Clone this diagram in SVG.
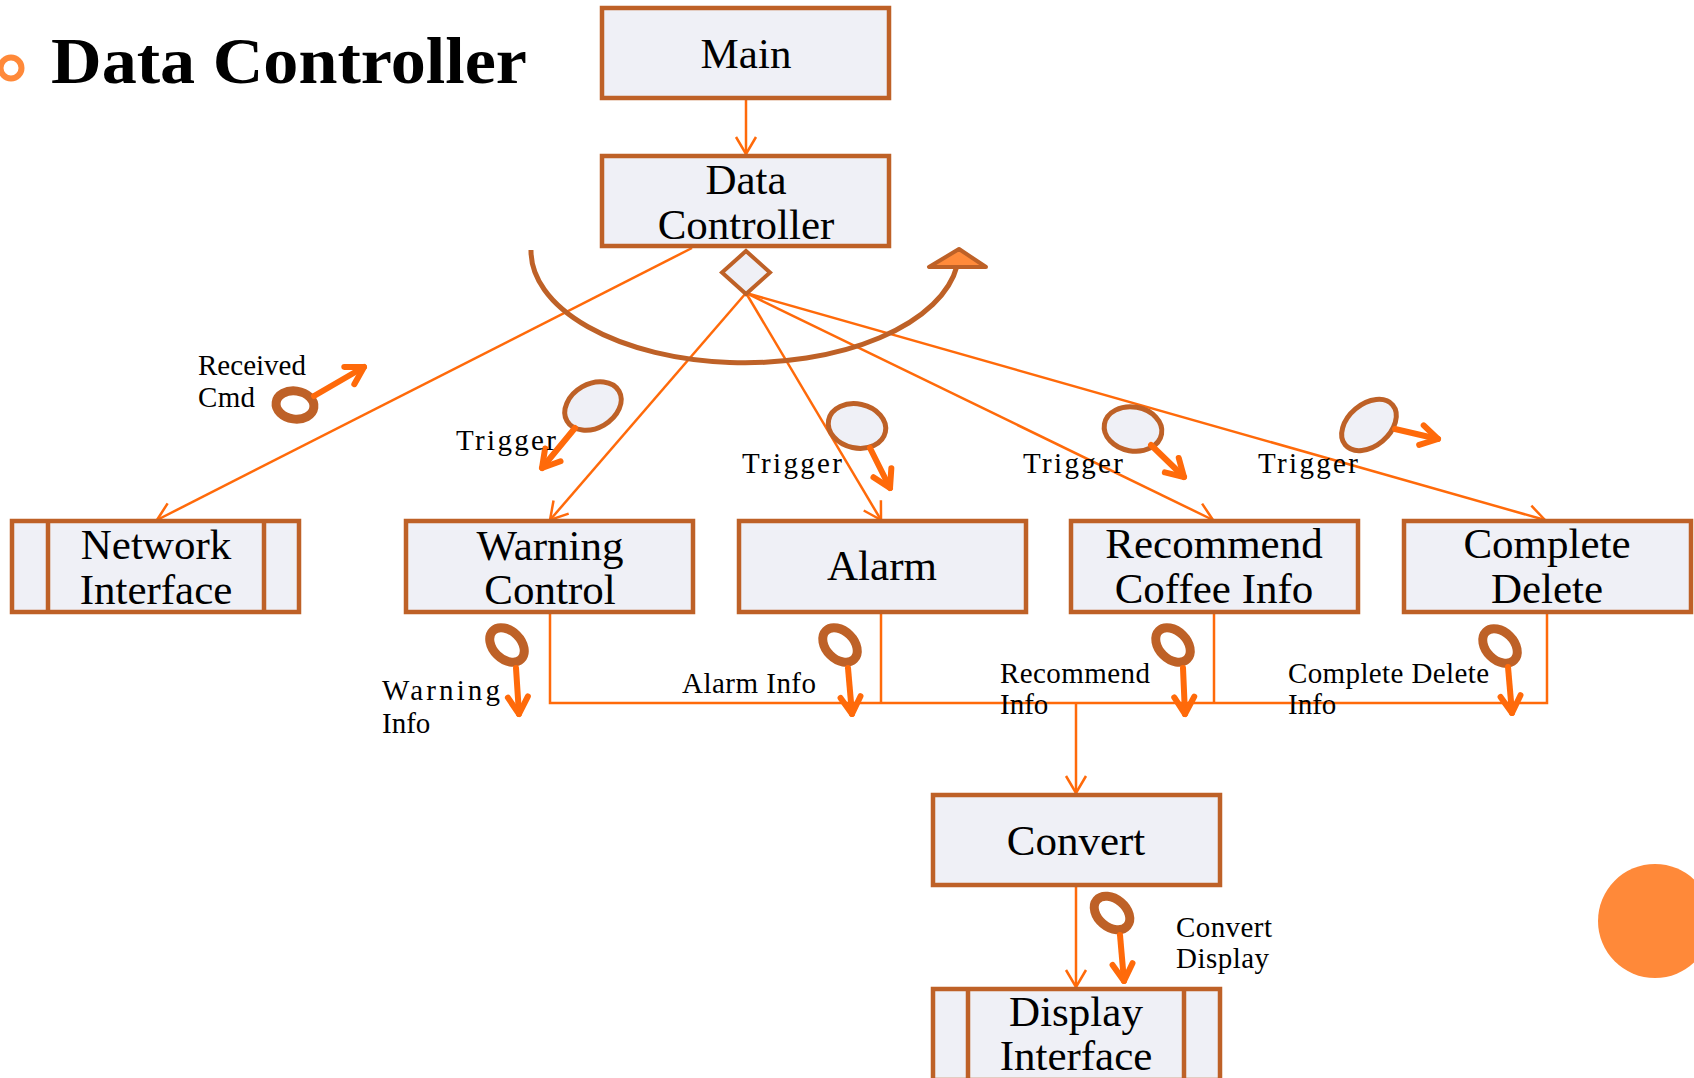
<svg xmlns="http://www.w3.org/2000/svg" width="1694" height="1078" viewBox="0 0 1694 1078">
<style>
.box{fill:#EFF0F6;stroke:#BE6127;stroke-width:4.5}
.bt{font-family:"Liberation Serif",serif;font-size:43px;fill:#000;text-anchor:middle}
.lt{font-family:"Liberation Serif",serif;font-size:29px;fill:#000}
.ln{fill:none;stroke:#FF6A0A;stroke-width:2.5}
.thk{fill:none;stroke:#FF6A0A;stroke-width:6;stroke-linecap:round}
.ring{fill:#fff;stroke:#BE6127;stroke-width:9}
.ctl{fill:#EFF0F6;stroke:#BE6127;stroke-width:5}
</style>
<defs>
<marker id="open" markerUnits="userSpaceOnUse" viewBox="-20 -12 24 24" markerWidth="24" markerHeight="24" refX="0" refY="0" orient="auto">
<path d="M -17 -10 L 0 0 L -17 10" fill="none" stroke="#FF6A0A" stroke-width="2.5"/>
</marker>
<marker id="thick" markerUnits="userSpaceOnUse" viewBox="-22 -14 28 28" markerWidth="28" markerHeight="28" refX="0" refY="0" orient="auto">
<path d="M -17 -10 L 0 0 L -17 10" fill="none" stroke="#FF6A0A" stroke-width="6" stroke-linecap="round" stroke-linejoin="round"/>
</marker>
</defs>
<rect width="1694" height="1078" fill="#fff"/>
<g id="title">
<circle cx="11" cy="68" r="10.5" fill="none" stroke="#FF8939" stroke-width="6"/>
<text x="51" y="83" font-family="Liberation Serif,serif" font-weight="bold" font-size="66" textLength="476" lengthAdjust="spacingAndGlyphs">Data Controller</text>
</g>
<circle id="deco" cx="1655" cy="921" r="57" fill="#FF8939"/>
<g id="connectors">
<path class="ln" d="M 746 100 V 154" marker-end="url(#open)"/>
<path class="ln" d="M 692 248 L 157 520" marker-end="url(#open)"/>
<path class="ln" d="M 746 293 L 550 520" marker-end="url(#open)"/>
<path class="ln" d="M 746 293 L 881 520" marker-end="url(#open)"/>
<path class="ln" d="M 746 293 L 1213 520" marker-end="url(#open)"/>
<path class="ln" d="M 746 293 L 1545 520" marker-end="url(#open)"/>
<path class="ln" d="M 550 613 V 703 H 1547 V 613"/>
<path class="ln" d="M 881 613 V 703"/>
<path class="ln" d="M 1214 613 V 703"/>
<path class="ln" d="M 1076 703 V 793" marker-end="url(#open)"/>
<path class="ln" d="M 1076 887 V 987" marker-end="url(#open)"/>
<path d="M 531 250 A 214 112 0 0 0 957 266" fill="none" stroke="#BE6127" stroke-width="5"/>
<path d="M 959 249 L 929 267 L 986 267 Z" fill="#FF8A3A" stroke="#BE6127" stroke-width="4" stroke-linejoin="round"/>
<path d="M 746 251 L 770 272.5 L 746 294 L 722 272.5 Z" fill="#EFF0F6" stroke="#BE6127" stroke-width="4"/>
</g>
<g id="main"><rect class="box" x="602" y="8" width="287" height="90"/><text class="bt" x="746" y="68">Main</text></g>
<g id="data-controller"><rect class="box" x="602" y="156" width="287" height="90"/><text class="bt" x="746" y="194">Data</text><text class="bt" x="746" y="239">Controller</text></g>
<g id="network-interface"><rect class="box" x="12" y="521" width="287" height="91"/><path d="M 48 521 V 612 M 264 521 V 612" stroke="#BE6127" stroke-width="4.5"/><text class="bt" x="156" y="559">Network</text><text class="bt" x="156" y="604">Interface</text></g>
<g id="warning-control"><rect class="box" x="406" y="521" width="287" height="91"/><text class="bt" x="550" y="560">Warning</text><text class="bt" x="550" y="604">Control</text></g>
<g id="alarm"><rect class="box" x="739" y="521" width="287" height="91"/><text class="bt" x="882" y="580">Alarm</text></g>
<g id="recommend"><rect class="box" x="1071" y="521" width="287" height="91"/><text class="bt" x="1214" y="558">Recommend</text><text class="bt" x="1214" y="603">Coffee Info</text></g>
<g id="complete-delete"><rect class="box" x="1404" y="521" width="287" height="91"/><text class="bt" x="1547" y="558">Complete</text><text class="bt" x="1547" y="603">Delete</text></g>
<g id="convert"><rect class="box" x="933" y="795" width="287" height="90"/><text class="bt" x="1076" y="855">Convert</text></g>
<g id="display-interface"><rect class="box" x="933" y="989" width="287" height="91"/><path d="M 968 989 V 1080 M 1184 989 V 1080" stroke="#BE6127" stroke-width="4.5"/><text class="bt" x="1076" y="1026">Display</text><text class="bt" x="1076" y="1070">Interface</text></g>
<g id="couples">
<g id="c-received"><ellipse class="ring" cx="295" cy="405" rx="19" ry="14" transform="rotate(8 295 405)"/><path class="thk" d="M 314 396 L 364 367" marker-end="url(#thick)"/><text class="lt" x="198" y="375" textLength="108">Received</text><text class="lt" x="198" y="407" textLength="57">Cmd</text></g>
<g id="c-trigger1"><ellipse class="ctl" cx="593" cy="406" rx="30" ry="22" transform="rotate(-30 593 406)"/><path class="thk" d="M 575 428 L 542 468" marker-end="url(#thick)"/><text class="lt" x="456" y="450" textLength="100">Trigger</text></g>
<g id="c-trigger2"><ellipse class="ctl" cx="857" cy="426" rx="29" ry="22" transform="rotate(12 857 426)"/><path class="thk" d="M 870 448 L 890 488" marker-end="url(#thick)"/><text class="lt" x="742" y="473" textLength="100">Trigger</text></g>
<g id="c-trigger3"><ellipse class="ctl" cx="1133" cy="429" rx="29" ry="22" transform="rotate(10 1133 429)"/><path class="thk" d="M 1151 445 L 1184 477" marker-end="url(#thick)"/><text class="lt" x="1023" y="473" textLength="100">Trigger</text></g>
<g id="c-trigger4"><ellipse class="ctl" cx="1369" cy="425" rx="31" ry="21" transform="rotate(-40 1369 425)"/><path class="thk" d="M 1395 429 L 1438 439" marker-end="url(#thick)"/><text class="lt" x="1258" y="473" textLength="100">Trigger</text></g>
<g id="c-warninginfo"><ellipse class="ring" cx="507" cy="645" rx="20" ry="14" transform="rotate(45 507 645)"/><path class="thk" d="M 516 668 L 519 714" marker-end="url(#thick)"/><text class="lt" x="382" y="700" textLength="118">Warning</text><text class="lt" x="382" y="733">Info</text></g>
<g id="c-alarminfo"><ellipse class="ring" cx="840" cy="645" rx="20" ry="14" transform="rotate(45 840 645)"/><path class="thk" d="M 848 668 L 852 714" marker-end="url(#thick)"/><text class="lt" x="682" y="693" textLength="134">Alarm Info</text></g>
<g id="c-recinfo"><ellipse class="ring" cx="1173" cy="645" rx="20" ry="14" transform="rotate(45 1173 645)"/><path class="thk" d="M 1183 668 L 1185 714" marker-end="url(#thick)"/><text class="lt" x="1000" y="683" textLength="150">Recommend</text><text class="lt" x="1000" y="714">Info</text></g>
<g id="c-cdinfo"><ellipse class="ring" cx="1500" cy="646" rx="20" ry="14" transform="rotate(45 1500 646)"/><path class="thk" d="M 1508 667 L 1512 713" marker-end="url(#thick)"/><text class="lt" x="1288" y="683" textLength="201">Complete Delete</text><text class="lt" x="1288" y="714">Info</text></g>
<g id="c-convdisp"><ellipse class="ring" cx="1112" cy="913" rx="20" ry="14" transform="rotate(40 1112 913)"/><path class="thk" d="M 1120 935 L 1124 981" marker-end="url(#thick)"/><text class="lt" x="1176" y="937" textLength="96">Convert</text><text class="lt" x="1176" y="968" textLength="93">Display</text></g>
</g>
</svg>
